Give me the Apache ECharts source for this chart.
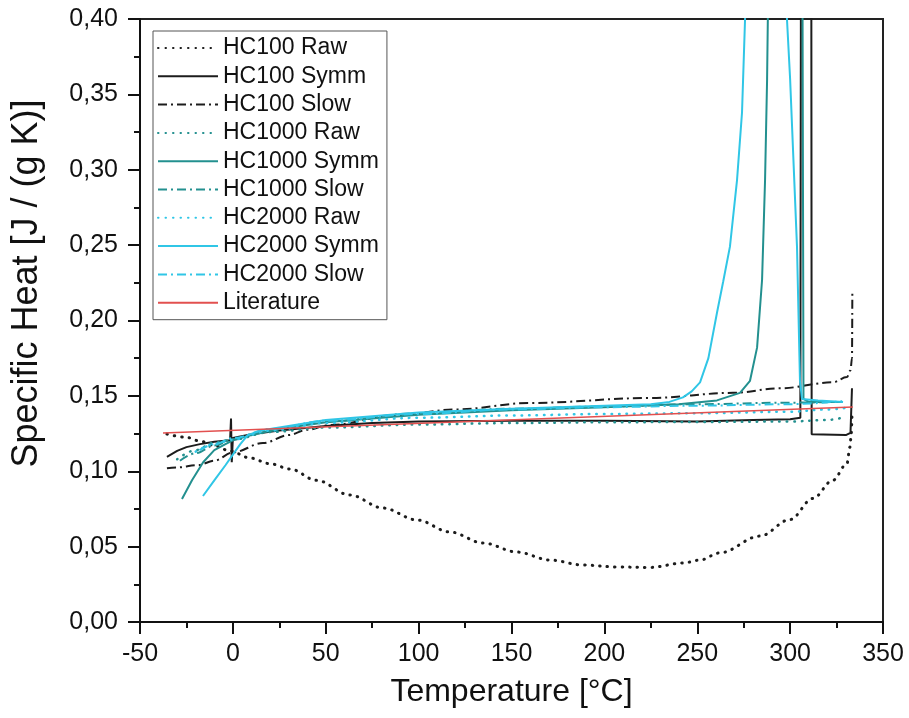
<!DOCTYPE html>
<html>
<head>
<meta charset="utf-8">
<script src="https://cdn.jsdelivr.net/npm/echarts@6/dist/echarts.min.js"></script>
<style>
  html, body { margin: 0; padding: 0; background: #fff; }
  #chart { width: 909px; height: 718px; }
</style>
</head>
<body>
<div id="chart"></div>
<script>
// [temperature °C, specific heat J/(g K)]
var hc100Raw = [[-35.5, 0.1247], [-25, 0.1225], [-17.7, 0.120], [-10, 0.117], [-1.5, 0.1134], [9.2, 0.1088], [20, 0.105],
  [30.8, 0.1015], [45, 0.094], [63.1, 0.0842], [80.8, 0.0756], [99.1, 0.0677], [116.9, 0.0597], [134.7, 0.0524],
  [153, 0.0464], [170.7, 0.0411], [188.5, 0.0378], [206.8, 0.0365], [224.6, 0.0362], [242.3, 0.0391], [251.5, 0.0411],
  [262, 0.0458], [283.8, 0.0570], [300, 0.068], [312.3, 0.082], [323, 0.094], [330.6, 0.105], [332.2, 0.116],
  [332.8, 0.123], [333.3, 0.137]];
var hc100Symm = [[-35.5, 0.1095], [-30, 0.1135], [-25, 0.116], [-17.7, 0.118], [-10, 0.1195], [-1.5, 0.1205], [-1, 0.135],
  [-0.6, 0.106], [0, 0.122], [10, 0.1245], [25, 0.127], [50, 0.130], [75, 0.132], [100, 0.133], [150, 0.1335],
  [200, 0.1335], [250, 0.133], [280, 0.134], [300, 0.1345], [305.5, 0.1355], [306, 0.6], [311.3, 0.6], [311.6, 0.1245],
  [330, 0.124], [332.5, 0.1255], [333.3, 0.155]];
var hc100Slow = [[-35.5, 0.102], [-30, 0.1025], [-19, 0.104], [-10, 0.107], [0, 0.1125], [16.2, 0.1187],
  [30, 0.1240], [40, 0.1275], [52.3, 0.1307], [88.4, 0.1373], [120, 0.141], [160, 0.1453], [224.6, 0.1486],
  [269.2, 0.152], [294.5, 0.155], [323, 0.159], [330.6, 0.1625], [332.5, 0.167], [333.3, 0.175], [333.5, 0.22]];
var hc1000Raw = [[-30, 0.108], [-20, 0.114], [-10, 0.119], [0, 0.121], [20, 0.126], [50, 0.129], [100, 0.131],
  [150, 0.132], [200, 0.1325], [250, 0.1327], [300, 0.133], [320, 0.134], [330, 0.136]];
var hc1000Symm = [[-27.4, 0.0816], [-22, 0.094], [-16, 0.106], [-10, 0.114], [-4, 0.118], [0, 0.1205], [10, 0.124],
  [25, 0.128], [50, 0.1325], [100, 0.1375], [150, 0.1405], [200, 0.1425], [240, 0.1445], [260.6, 0.147], [273, 0.152],
  [278.4, 0.16], [282.2, 0.182], [284.9, 0.227], [286.5, 0.293], [287.6, 0.36], [289, 0.5], [306.5, 0.5],
  [307.2, 0.148], [310, 0.146], [328, 0.146]];
var hc1000Slow = [[-28.5, 0.107], [-20, 0.112], [-10, 0.117], [0, 0.121], [20, 0.127], [50, 0.133], [100, 0.1385],
  [150, 0.1415], [200, 0.143], [250, 0.1445], [300, 0.1455], [328, 0.146]];
var hc2000Raw = [[-20, 0.113], [-10, 0.118], [0, 0.121], [20, 0.127], [50, 0.132], [100, 0.1355], [150, 0.137],
  [200, 0.138], [250, 0.1385], [300, 0.1395], [320, 0.141], [330, 0.142]];
var hc2000Symm = [[-16.1, 0.0836], [-10, 0.094], [-4, 0.104], [0, 0.111], [4, 0.118], [8, 0.124], [15, 0.127],
  [25, 0.129], [50, 0.134], [100, 0.139], [150, 0.1415], [200, 0.1435], [225, 0.1445], [235, 0.146], [242.3, 0.149],
  [247, 0.153], [251.5, 0.159], [256, 0.175], [260.6, 0.205], [264, 0.226], [267.6, 0.249], [271.4, 0.293],
  [274.1, 0.338], [276, 0.41], [280, 0.6], [294, 0.6], [298.3, 0.40], [300, 0.36], [303.7, 0.249], [305.3, 0.16],
  [306.4, 0.148], [315, 0.147], [328.5, 0.146]];
var hc2000Slow = [[-18, 0.114], [-10, 0.118], [0, 0.122], [20, 0.128], [50, 0.1335], [100, 0.138], [150, 0.141],
  [200, 0.1425], [250, 0.1435], [300, 0.1445], [328, 0.1465]];
var literature = [[-37.6, 0.1254], [333.8, 0.1426]];

var black = '#1c1c1c', teal = '#23908f', cyan = '#30c6e6', red = '#e2504f';
var dotted = [0.5, 7];
var dashDot = [9, 4, 2, 4];

function line(name, data, color, type, width, smooth) {
  return {
    name: name,
    type: 'line',
    data: data,
    symbol: 'none',
    smooth: smooth ? 0.35 : false,
    smoothMonotone: 'x',
    clip: true,
    lineStyle: { color: color, type: type, width: width, cap: type === dotted ? 'round' : 'butt' },
    itemStyle: { color: color }
  };
}

var myChart = echarts.init(document.getElementById('chart'));
var option = {
  animation: false,
  textStyle: { fontFamily: 'Liberation Sans, Arial, sans-serif' },
  grid: { left: 140, right: 26, top: 19, bottom: 96, show: true, borderColor: '#222', borderWidth: 2 },
  legend: {
    orient: 'vertical',
    left: 153,
    top: 31,
    itemWidth: 60,
    itemHeight: 14,
    itemGap: 4.3,
    padding: [5, 8, 5, 4],
    borderColor: '#555',
    borderWidth: 1,
    backgroundColor: '#fff',
    itemStyle: { opacity: 0 },
    textStyle: { fontSize: 23, color: '#111', lineHeight: 24 },
    data: ['HC100 Raw', 'HC100 Symm', 'HC100 Slow', 'HC1000 Raw', 'HC1000 Symm', 'HC1000 Slow',
      'HC2000 Raw', 'HC2000 Symm', 'HC2000 Slow', 'Literature']
  },
  xAxis: {
    type: 'value',
    min: -50,
    max: 350,
    interval: 50,
    name: 'Temperature [°C]',
    nameLocation: 'middle',
    nameGap: 54,
    nameTextStyle: { fontSize: 32, color: '#111' },
    axisLine: { lineStyle: { color: '#111', width: 2 } },
    axisTick: { length: 12, lineStyle: { color: '#111', width: 2 } },
    minorTick: { show: true, splitNumber: 2, length: 6, lineStyle: { color: '#111', width: 2 } },
    splitLine: { show: false },
    axisLabel: { fontSize: 25, color: '#111', margin: 20 }
  },
  yAxis: {
    type: 'value',
    min: 0,
    max: 0.4,
    interval: 0.05,
    name: 'Specific Heat [J / (g K)]',
    nameLocation: 'middle',
    nameGap: 95,
    nameTextStyle: { fontSize: 36, color: '#111', padding: [0, 0, 0, 74] },
    axisLine: { show: true, onZero: false, lineStyle: { color: '#111', width: 2 } },
    axisTick: { show: true, length: 12, lineStyle: { color: '#111', width: 2 } },
    minorTick: { show: true, splitNumber: 2, length: 6, lineStyle: { color: '#111', width: 2 } },
    splitLine: { show: false },
    axisLabel: {
      fontSize: 25, color: '#111', margin: 22,
      formatter: function (v) { return v.toFixed(2).replace('.', ','); }
    }
  },
  series: [
    line('HC100 Raw', hc100Raw, black, dotted, 3, true),
    line('HC100 Symm', hc100Symm, black, 'solid', 2, false),
    line('HC100 Slow', hc100Slow, black, dashDot, 2, true),
    line('HC1000 Raw', hc1000Raw, teal, dotted, 2.5, true),
    line('HC1000 Symm', hc1000Symm, teal, 'solid', 2, false),
    line('HC1000 Slow', hc1000Slow, teal, dashDot, 2, true),
    line('HC2000 Raw', hc2000Raw, cyan, dotted, 2.5, true),
    line('HC2000 Symm', hc2000Symm, cyan, 'solid', 2, false),
    line('HC2000 Slow', hc2000Slow, cyan, dashDot, 2, true),
    line('Literature', literature, red, 'solid', 1.5, false)
  ]
};
myChart.setOption(option);
</script>
</body>
</html>
